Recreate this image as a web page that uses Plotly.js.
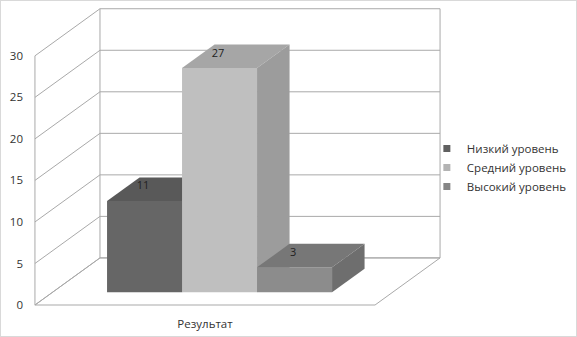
<!DOCTYPE html>
<html><head><meta charset="utf-8">
<script src="https://cdn.plot.ly/plotly-3.0.1.min.js"></script>
<style>
html,body{margin:0;padding:0;background:#fff}
#chart{width:577px;height:337px}
#frame{position:absolute;left:0;top:0;width:577px;height:337px;box-sizing:border-box;border:1px solid #d9d9d9;pointer-events:none}
</style>
</head><body><div id="chart"></div><div id="frame"></div>
<script>
// ---- data ----
const category = ['Результат'];
const seriesNames = ['Низкий уровень', 'Средний уровень', 'Высокий уровень'];
const seriesValues = [11, 27, 3];
const yTicks = [0, 5, 10, 15, 20, 25, 30];

// ---- styles ----
const frontColors = ['#666666', '#bfbfbf', '#8c8c8c'];
const topColors = ['#595959', '#a6a6a6', '#777777'];
const sideColors = ['#505050', '#9c9c9c', '#6e6e6e'];
const legendColors = ['#606060', '#b3b3b3', '#858585'];
const gridColor = '#a9a9a9';
const FONT = 'Open Sans, Noto Sans, sans-serif';

// ---- oblique 3D geometry (axis units) ----
const DX = 0.867, DY = 5.67;   // full depth offset
const F0 = 0.27, F1 = 0.77;    // bar depth span (fraction of full depth)
const XL = -2.227, XR = 2.307; // front plane extent
const yTop = yTicks[yTicks.length - 1];
const n = seriesValues.length;

const traces = [];

// floor
traces.push({type:'scatter', mode:'lines', fill:'toself', fillcolor:'#ffffff',
  x:[XL, XR, XR + DX, XL + DX, XL], y:[0, 0, DY, DY, 0],
  line:{color:gridColor, width:1}, hoverinfo:'skip', showlegend:false});

// gridlines on side wall and back wall + frame edges
const gx = [], gy = [];
yTicks.forEach(k => {
  gx.push(XL, XL + DX, XR + DX, null);
  gy.push(k, k + DY, k + DY, null);
});
gx.push(XL, XL, null, XL + DX, XL + DX, null, XR + DX, XR + DX, null);
gy.push(0, yTop, null, DY, yTop + DY, null, DY, yTop + DY, null);
traces.push({type:'scatter', mode:'lines', x:gx, y:gy,
  line:{color:gridColor, width:1}, hoverinfo:'skip', showlegend:false});

// bars
const lx = [], ly = [], lt = [];
seriesValues.forEach((v, i) => {
  const o = i - (n - 1) / 2;
  const a = o - 0.5, b = o + 0.5;
  const fx = DX * F0, fy = DY * F0, bx = DX * F1, by = DY * F1;
  // front
  traces.push({type:'scatter', mode:'lines', fill:'toself', fillcolor:frontColors[i],
    x:[a + fx, b + fx, b + fx, a + fx, a + fx], y:[fy, fy, v + fy, v + fy, fy],
    line:{width:0, color:frontColors[i]}, hoverinfo:'skip', showlegend:false});
  // top
  traces.push({type:'scatter', mode:'lines', fill:'toself', fillcolor:topColors[i],
    x:[a + fx, b + fx, b + bx, a + bx, a + fx], y:[v + fy, v + fy, v + by, v + by, v + fy],
    line:{width:0, color:topColors[i]}, hoverinfo:'skip', showlegend:false});
  // side
  traces.push({type:'scatter', mode:'lines', fill:'toself', fillcolor:sideColors[i],
    x:[b + fx, b + bx, b + bx, b + fx, b + fx], y:[fy, by, v + by, v + fy, fy],
    line:{width:0, color:sideColors[i]}, hoverinfo:'skip', showlegend:false});
  lx.push(o + fx - 0.02);
  ly.push(v + DY * (F0 + F1) / 2 + 0.3);
  lt.push(String(v));
});

// value labels
traces.push({type:'scatter', mode:'text', x:lx, y:ly, text:lt,
  textfont:{family:FONT, size:11, color:'#222'}, textposition:'middle center',
  hoverinfo:'skip', showlegend:false, cliponaxis:false});

// legend entries
seriesNames.forEach((nm, i) => {
  traces.push({type:'scatter', mode:'markers', x:[null], y:[null], name:nm,
    marker:{symbol:'square', size:7, color:legendColors[i]}, hoverinfo:'skip'});
});

const layout = {
  width:577, height:337,
  margin:{l:33, r:135, t:6, b:30, autoexpand:false},
  paper_bgcolor:'#ffffff', plot_bgcolor:'#ffffff',
  font:{family:FONT, size:11, color:'#333'},
  xaxis:{range:[-2.253, 3.2], showgrid:false, zeroline:false, showline:false,
    tickvals:[0.04], ticktext:category, ticks:'', ticklabelstandoff:8,
    tickfont:{family:FONT, size:11.5, color:'#333'}, fixedrange:true},
  yaxis:{range:[-0.24, 36.0], showgrid:false, zeroline:false, showline:false,
    tickvals:yTicks, ticks:'', ticklabelstandoff:9,
    tickfont:{family:FONT, size:11.5, color:'#333'}, fixedrange:true},
  showlegend:true,
  legend:{x:0.963, xanchor:'left', y:0.575, yanchor:'top', bgcolor:'rgba(0,0,0,0)',
    font:{family:FONT, size:11.5, color:'#333'}, itemclick:false, itemdoubleclick:false},
  hovermode:false
};

Plotly.newPlot('chart', traces, layout, {displayModeBar:false, staticPlot:true});
</script>
</body></html>
